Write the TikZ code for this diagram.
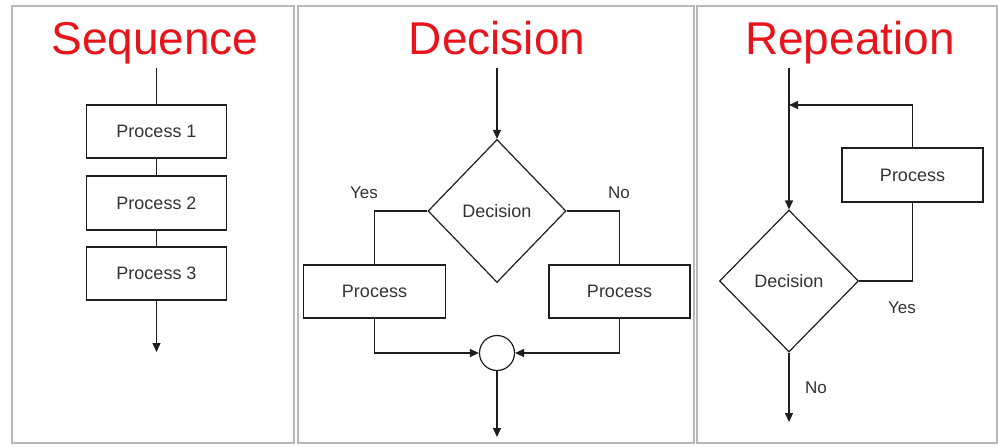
\documentclass[tikz,border=0pt]{standalone}
\usepackage{fontspec}
\setmainfont{Liberation Sans}
\usetikzlibrary{shapes.geometric,arrows.meta}
\definecolor{titlered}{HTML}{E8141C}
\definecolor{framegray}{HTML}{B8B8B8}
\definecolor{ink}{HTML}{1E1E1E}
\definecolor{labelink}{HTML}{333333}
\begin{document}
\begin{tikzpicture}[x=1pt,y=-1pt,
  line width=1.2pt,
  panel/.style={draw=framegray,line width=2pt},
  heading/.style={text=titlered,anchor=base,inner sep=0pt,font=\fontsize{46}{50}\selectfont},
  stepbox/.style={draw=ink,rectangle,minimum width=140pt,minimum height=53pt,inner sep=0pt,text=labelink,font=\fontsize{18}{20}\selectfont},
  choice/.style={draw=ink,diamond,minimum width=138pt,minimum height=143pt,inner sep=0pt,text=labelink,font=\fontsize{18}{20}\selectfont},
  merge/.style={draw=ink,circle,minimum size=35pt,inner sep=0pt},
  tag/.style={text=labelink,inner sep=0pt,font=\fontsize{17}{19}\selectfont},
  flow/.style={draw=ink},
  arr/.style={draw=ink,-{Triangle[length=9pt,width=8pt]}}]
\useasboundingbox (0,0) rectangle (999,447);
\fill[white] (0,0) rectangle (999,447);

% three framed panels
\draw[panel] (12,6) rectangle (294,443);
\draw[panel] (298,6) rectangle (694,443);
\draw[panel] (697,6) rectangle (997,443);

% headings
\node[heading] (h1) at (155,54) {Sequence};
\node[heading] (h2) at (497,54) {Decision};
\node[heading] (h3) at (850,54) {Repeation};

% --- Sequence ---
\coordinate (s0) at (156.5,68);
\node[stepbox] (p1) at (156.5,131.5) {Process 1};
\node[stepbox,minimum height=54pt] (p2) at (156.5,203) {Process 2};
\node[stepbox] (p3) at (156.5,273.5) {Process 3};
\coordinate (s1) at (156.5,352);
\draw[flow] (s0) -- (p1.north);
\draw[flow] (p1.south) -- (p2.north);
\draw[flow] (p2.south) -- (p3.north);
\draw[arr] (p3.south) -- (s1);

% --- Decision ---
\coordinate (d0) at (497,68);
\node[choice] (dd) at (497,211) {Decision};
\node[stepbox,minimum width=142pt] (pl) at (374.5,291.5) {Process};
\node[stepbox,minimum width=141pt] (pr) at (619.5,291.5) {Process};
\node[merge] (mm) at (497,353) {};
\coordinate (d1) at (497,437);
\draw[arr] (d0) -- (dd.north);
\draw[flow] (dd.west) -| (pl.north);
\draw[flow] (dd.east) -| (pr.north);
\draw[arr] (pl.south) |- (mm.west);
\draw[arr] (pr.south) |- (mm.east);
\draw[arr] (mm.south) -- (d1);
\node[tag] (yes1) at (364,193) {Yes};
\node[tag] (no1) at (619,193) {No};

% --- Repetition ---
\coordinate (r0) at (789,68);
\coordinate (rj) at (789,105);
\node[choice,minimum width=139pt,minimum height=142pt] (rd) at (789,281) {Decision};
\node[stepbox,minimum width=141pt,minimum height=54pt] (rp) at (912.5,175) {Process};
\coordinate (r1) at (789,422);
\draw[arr] (r0) -- (rd.north);
\draw[arr] (rp.north) |- (rj);
\draw[flow] (rd.east) -| (rp.south);
\draw[arr] (rd.south) -- (r1);
\node[tag] (yes2) at (902,308) {Yes};
\node[tag] (no2) at (816,388) {No};
\end{tikzpicture}
\end{document}
